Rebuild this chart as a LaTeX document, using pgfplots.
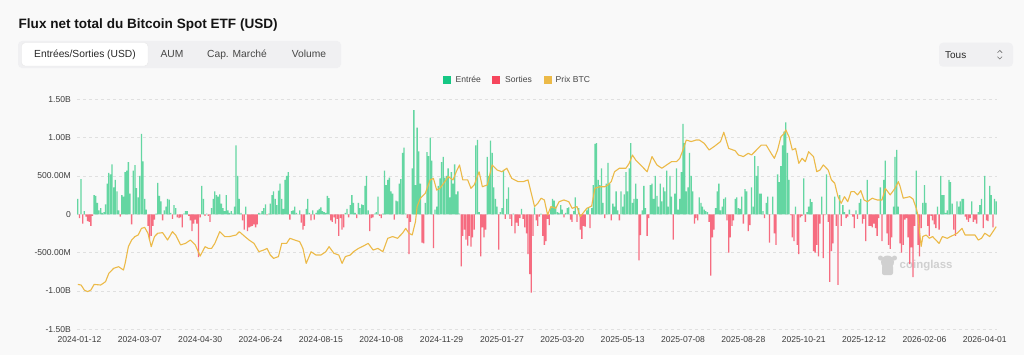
\documentclass[border=0pt]{standalone}
\usepackage{fontspec}
\setmainfont{Liberation Sans}
\usepackage{pgfplots}
\usepackage{pgfplotstable}
\pgfplotsset{compat=1.18}
\definecolor{bgc}{RGB}{249,249,249}
\definecolor{tabbg}{RGB}{240,240,242}
\definecolor{tabborder}{RGB}{232,232,232}
\definecolor{gridc}{RGB}{224,224,224}
\definecolor{tickc}{RGB}{60,60,60}
\definecolor{txtdark}{RGB}{40,40,40}
\definecolor{txtmid}{RGB}{70,70,70}
\definecolor{chev}{RGB}{110,110,110}
\definecolor{inc}{RGB}{22,199,132}
\definecolor{outc}{RGB}{246,70,93}
\definecolor{pricec}{RGB}{236,186,72}
\definecolor{inbar}{RGB}{100,214,162}
\definecolor{outbar}{RGB}{246,108,128}
\definecolor{wm}{RGB}{208,208,208}
\definecolor{titlec}{RGB}{20,20,20}

% daily net flows, billions USD
\pgfplotstableread[row sep=\\]{
v\\
0.20\\-0.05\\0.46\\-0.12\\0.04\\-0.03\\-0.09\\-0.10\\-0.15\\-0.02\\
0.25\\0.24\\0.15\\0.05\\0.08\\0.02\\0.03\\0.13\\0.40\\0.54\\
0.52\\0.65\\0.35\\0.45\\0.30\\0.05\\-0.03\\0.25\\0.23\\0.55\\
0.57\\0.68\\0.27\\-0.13\\0.57\\0.64\\0.34\\0.22\\0.50\\1.05\\
0.69\\0.20\\0.06\\-0.15\\-0.33\\-0.28\\-0.15\\-0.07\\0.01\\0.41\\
0.24\\0.17\\-0.08\\0.05\\0.10\\0.20\\0.19\\0.02\\-0.06\\0.12\\
0.08\\-0.04\\-0.05\\-0.04\\-0.17\\0.01\\0.04\\0.04\\-0.02\\-0.08\\
-0.22\\-0.12\\-0.07\\-0.12\\-0.56\\-0.04\\0.37\\0.20\\-0.02\\0.01\\
-0.02\\-0.10\\0.08\\0.20\\0.30\\0.25\\0.23\\0.26\\0.14\\0.08\\
0.04\\0.25\\0.05\\0.02\\0.04\\0.01\\0.10\\0.90\\0.50\\0.20\\
0.02\\-0.08\\-0.20\\0.10\\-0.22\\-0.17\\-0.16\\-0.15\\-0.13\\-0.17\\
-0.13\\0.02\\0.01\\0.04\\0.08\\0.13\\-0.01\\0.01\\0.14\\0.25\\
0.30\\0.20\\0.12\\0.31\\0.40\\0.20\\0.07\\0.45\\0.50\\0.55\\
-0.07\\0.04\\0.05\\0.10\\0.02\\0.00\\0.05\\-0.11\\-0.20\\-0.15\\
0.07\\0.20\\0.02\\-0.08\\0.05\\-0.07\\0.02\\0.05\\0.07\\0.09\\
0.04\\0.03\\0.02\\0.24\\0.21\\-0.08\\-0.10\\-0.04\\-0.12\\-0.06\\
-0.28\\-0.05\\
-0.20\\-0.17\\0.02\\0.07\\-0.04\\0.12\\0.25\\0.15\\0.02\\-0.05\\
0.15\\0.08\\0.13\\0.12\\0.37\\0.50\\0.05\\-0.22\\-0.05\\-0.04\\
0.01\\0.03\\0.23\\-0.02\\-0.05\\0.01\\0.57\\0.38\\0.45\\0.48\\
0.30\\0.27\\-0.07\\0.18\\0.17\\0.40\\0.46\\0.80\\0.87\\0.01\\
-0.05\\-0.52\\-0.10\\0.60\\1.36\\0.38\\1.13\\0.82\\0.40\\-0.37\\
-0.38\\0.15\\0.81\\0.76\\1.00\\0.70\\-0.44\\0.06\\0.10\\0.37\\
0.47\\0.68\\0.75\\0.48\\0.50\\0.60\\0.22\\0.55\\0.40\\0.65\\
0.26\\0.30\\0.01\\-0.68\\-0.28\\-0.20\\-0.33\\-0.41\\-0.28\\
-0.42\\-0.30\\-0.20\\0.90\\0.97\\0.03\\-0.55\\-0.17\\-0.30\\-0.20\\
0.75\\0.50\\0.96\\0.80\\0.35\\0.20\\0.10\\-0.46\\0.03\\0.08\\
0.58\\-0.06\\0.20\\0.35\\-0.06\\-0.15\\0.01\\-0.25\\-0.11\\-0.15\\
-0.05\\0.07\\-0.06\\-0.17\\-0.25\\-0.52\\-0.78\\-1.02\\-0.28\\0.09\\
-0.08\\-0.15\\-0.03\\0.01\\-0.28\\-0.40\\-0.35\\-0.06\\-0.14\\0.09\\
0.20\\0.18\\0.10\\0.03\\0.02\\0.12\\0.06\\-0.04\\0.02\\0.08\\
0.09\\-0.07\\-0.10\\0.04\\0.22\\-0.10\\0.08\\-0.20\\-0.32\\-0.15\\
-0.16\\0.05\\0.08\\-0.18\\0.08\\0.38\\0.92\\0.93\\0.45\\0.38\\
0.60\\0.15\\
-0.05\\0.40\\0.67\\0.40\\-0.08\\0.14\\0.10\\0.30\\0.05\\-0.08\\
0.30\\0.10\\0.26\\0.55\\0.30\\0.60\\0.93\\0.15\\0.20\\0.40\\
0.20\\-0.60\\-0.27\\0.05\\0.37\\0.08\\-0.28\\-0.05\\0.38\\0.40\\
0.20\\0.50\\0.24\\0.10\\0.40\\0.17\\0.35\\0.30\\0.57\\0.10\\
0.50\\0.23\\-0.33\\0.27\\0.60\\0.06\\0.20\\0.55\\1.18\\0.93\\
0.30\\0.35\\0.80\\0.50\\0.30\\-0.12\\-0.05\\-0.08\\0.22\\0.15\\
0.10\\0.06\\0.04\\0.03\\-0.10\\-0.80\\-0.30\\-0.20\\0.08\\0.30\\
0.40\\0.05\\0.10\\0.20\\0.22\\-0.08\\-0.50\\-0.30\\-0.15\\-0.08\\
0.20\\
0.22\\0.08\\0.07\\0.23\\-0.12\\0.33\\0.30\\-0.22\\-0.14\\0.35\\
0.10\\0.76\\0.50\\0.63\\0.27\\0.27\\0.04\\-0.05\\0.15\\0.23\\
-0.37\\0.00\\0.23\\-0.25\\-0.40\\0.52\\0.42\\0.63\\0.90\\1.08\\
1.20\\0.80\\0.45\\-0.01\\-0.30\\-0.35\\0.10\\-0.40\\-0.52\\-0.04\\
-0.02\\0.47\\-0.10\\0.03\\0.10\\0.20\\0.16\\-0.48\\-0.50\\-0.40\\
-0.55\\-0.12\\0.23\\-0.57\\-0.01\\0.52\\-0.10\\-0.88\\-0.48\\-0.38\\
0.23\\-0.15\\-0.92\\0.25\\-0.15\\0.12\\0.03\\-0.05\\-0.03\\0.06\\
0.00\\-0.03\\-0.18\\0.05\\-0.06\\0.15\\0.20\\-0.12\\-0.06\\-0.35\\
0.45\\
-0.15\\-0.15\\-0.17\\-0.12\\-0.18\\-0.28\\-0.05\\0.35\\-0.35\\0.45\\
0.70\\-0.25\\-0.40\\-0.45\\-0.30\\0.10\\0.75\\0.84\\0.10\\-0.38\\
-0.50\\-0.40\\-0.07\\-0.05\\-0.30\\-0.65\\-0.43\\-0.82\\-0.15\\0.57\\
-0.40\\-0.55\\-0.18\\0.15\\0.38\\0.15\\-0.15\\-0.28\\-0.02\\-0.08\\
-0.13\\-0.18\\0.10\\-0.20\\0.50\\0.25\\0.25\\0.02\\0.05\\0.45\\
0.42\\0.14\\-0.20\\-0.28\\0.17\\0.10\\0.17\\0.20\\0.20\\-0.03\\
-0.07\\-0.10\\-0.05\\0.17\\-0.10\\-0.07\\-0.12\\0.03\\0.12\\0.20\\
-0.18\\0.50\\-0.08\\-0.09\\0.37\\0.25\\-0.17\\0.20\\0.17\\
}\flows

% BTC price, thousands USD, at trading-day index
\pgfplotstableread[row sep=\\]{
i p\\
0 46.3\\2 46.0\\4 43.4\\6 42.6\\8 43.4\\10 46.3\\14 46.0\\17 47.7\\19 52.0\\22 54.6\\
25 55.4\\28 53.7\\29 57.1\\31 65.7\\33 69.1\\35 70.9\\37 71.7\\39 75.1\\41 75.6\\43 72.6\\
45 65.7\\47 70.9\\49 72.6\\52 72.9\\55 69.1\\58 73.4\\60 71.7\\63 66.6\\66 67.4\\69 69.1\\
72 66.6\\75 60.9\\78 65.7\\80 64.8\\82 64.8\\84 67.4\\87 73.4\\90 70.9\\93 70.9\\97 71.7\\
99 73.4\\102 71.2\\105 69.1\\108 67.4\\111 63.1\\114 64.0\\116 64.8\\118 61.4\\120 59.7\\123 60.6\\
125 67.4\\128 67.4\\130 70.0\\133 69.1\\136 68.3\\138 64.8\\140 57.1\\143 63.1\\146 61.4\\149 61.4\\
152 63.1\\154 65.7\\157 62.3\\160 61.4\\162 57.1\\164 60.6\\167 61.4\\169 63.1\\172 64.8\\175 66.0\\
178 67.4\\181 64.0\\184 64.8\\187 63.1\\190 70.0\\193 70.9\\196 70.0\\199 72.6\\201 75.1\\203 72.6\\
205 71.7\\207 78.6\\208 86.3\\210 90.6\\213 93.1\\216 100.0\\218 100.8\\220 94.8\\222 95.7\\225 99.1\\
227 101.7\\230 100.0\\232 104.2\\234 107.7\\236 100.0\\239 100.0\\241 95.7\\243 97.4\\246 104.2\\248 96.5\\
251 97.4\\254 107.7\\257 105.1\\260 104.2\\263 106.0\\266 100.8\\270 99.1\\273 99.1\\276 100.0\\278 93.1\\
280 86.3\\282 88.0\\284 90.6\\286 89.7\\288 82.0\\290 86.3\\293 85.4\\295 88.8\\298 89.7\\301 88.8\\
303 85.4\\306 86.3\\308 81.1\\312 85.4\\315 86.6\\317 95.7\\320 96.5\\323 96.5\\325 97.4\\327 99.1\\
329 104.2\\332 106.0\\336 106.0\\338 108.5\\340 112.8\\342 110.2\\345 107.7\\349 104.2\\352 112.0\\355 107.7\\
358 106.0\\361 107.7\\364 109.4\\367 109.4\\369 111.1\\371 115.4\\373 120.5\\376 119.7\\379 120.5\\381 120.5\\
384 118.8\\387 115.4\\390 117.1\\394 119.7\\396 124.5\\399 116.2\\403 115.0\\405 112.8\\408 112.0\\411 113.7\\
413 112.8\\415 114.5\\419 117.9\\422 117.9\\425 113.7\\427 111.1\\429 115.4\\431 122.2\\433 123.9\\434 125.7\\
436 122.2\\438 115.4\\440 116.2\\442 108.5\\444 111.1\\446 109.4\\448 114.5\\451 112.0\\453 104.2\\455 105.1\\
457 107.7\\460 105.1\\462 100.0\\464 98.3\\466 91.4\\468 88.0\\470 91.4\\472 88.8\\474 94.0\\476 94.0\\
478 92.3\\480 94.5\\482 89.7\\484 88.8\\487 90.6\\490 89.7\\493 89.7\\495 95.7\\498 92.3\\501 95.7\\
503 99.1\\504 96.9\\506 90.6\\510 91.4\\512 90.2\\514 85.4\\515 82.0\\516 73.4\\517 65.8\\518 70.9\\
520 71.7\\522 70.0\\524 70.9\\526 69.1\\528 67.4\\530 70.9\\533 70.0\\535 70.9\\537 71.7\\539 72.6\\
542 75.1\\544 71.7\\547 71.7\\550 71.7\\552 69.1\\554 70.0\\556 72.6\\559 70.9\\561 73.4\\563 76.0\\
}\price

\begin{document}
\begin{tikzpicture}[x=1bp,y=1bp]
\fill[bgc] (0,0) rectangle (1024,355);
% title
\node[anchor=base west, inner sep=0, font=\bfseries\fontsize{13.6}{16}\selectfont, text=titlec] at (18.5,327) {Flux net total du Bitcoin Spot ETF (USD)};
% tabs
\fill[tabbg, rounded corners=4bp] (18,287) rectangle (341,314);
\filldraw[fill=white, draw=tabborder, line width=0.4bp, rounded corners=3.5bp] (21.5,289) rectangle (148,312.3);
\node[inner sep=0, font=\fontsize{10.3}{12}\selectfont, text=txtdark] at (85,300.7) {Entrées/Sorties (USD)};
\node[inner sep=0, font=\fontsize{10.3}{12}\selectfont, text=txtmid] at (172,300.7) {AUM};
\node[inner sep=0, font=\fontsize{10.3}{12}\selectfont, text=txtmid] at (237,300.7) {Cap. Marché};
\node[inner sep=0, font=\fontsize{10.3}{12}\selectfont, text=txtmid] at (309,300.7) {Volume};
% Tous dropdown
\fill[tabbg, rounded corners=4bp] (939,288.3) rectangle (1013,312.3);
\node[anchor=west, inner sep=0, font=\fontsize{10}{12}\selectfont, text=txtdark] at (945,300.3) {Tous};
\draw[chev, line width=0.6bp] (997.5,302.3)--(999.8,304.6)--(1002.1,302.3);
\draw[chev, line width=0.6bp] (997.5,298.3)--(999.8,296)--(1002.1,298.3);
% legend
\fill[inc] (443,271.5) rectangle (451,279.5);
\node[anchor=west, inner sep=0, font=\fontsize{8.6}{10}\selectfont, text=txtmid] at (455.5,275.5) {Entrée};
\fill[outc] (492,271.5) rectangle (500,279.5);
\node[anchor=west, inner sep=0, font=\fontsize{8.6}{10}\selectfont, text=txtmid] at (505,275.5) {Sorties};
\fill[pricec] (544,271.5) rectangle (552,279.5);
\node[anchor=west, inner sep=0, font=\fontsize{8.6}{10}\selectfont, text=txtmid] at (555.5,275.5) {Prix BTC};
% watermark
\fill[wm] (887.5,93) circle (6.5);
\fill[wm] (880.5,97) circle (2.5);
\fill[wm] (894.5,97) circle (2.5);
\fill[wm, rounded corners=2bp] (882,80) rectangle (893,90);
\node[anchor=west, inner sep=0, font=\bfseries\fontsize{11.5}{13}\selectfont, text=wm] at (899.5,89) {coinglass};

\begin{axis}[at={(77bp,25.7bp)}, anchor=south west, width=920bp, height=230bp, scale only axis,
  xmin=-0.5, xmax=563.5, ymin=-1.5, ymax=1.5,
  axis line style={draw=none}, major tick length=0pt,
  ytick={-1.5,-1,-0.5,0,0.5,1,1.5},
  yticklabels={-1.50B,-1.00B,-500.00M,0,500.00M,1.00B,1.50B},
  xtick={1,38,...,556},
  xticklabels={2024-01-12,2024-03-07,2024-04-30,2024-06-24,2024-08-15,2024-10-08,2024-11-29,2025-01-27,2025-03-20,2025-05-13,2025-07-08,2025-08-28,2025-10-21,2025-12-12,2026-02-06,2026-04-01},
  ymajorgrids, grid style={gridc, dash pattern=on 3bp off 3bp, line width=0.6bp},
  yticklabel style={font=\fontsize{8.6}{10}\selectfont, text=tickc, inner sep=0pt, xshift=-6bp},
  xticklabel style={font=\fontsize{8.6}{10}\selectfont, text=tickc, inner sep=0pt, yshift=-6.7bp},
  clip=false]
\addplot[ybar, bar width=0.8, bar shift=0pt, fill=inbar, draw=none] table[x expr=\coordindex, y=v, restrict y to domain=0:2] {\flows};
\addplot[ybar, bar width=0.8, bar shift=0pt, fill=outbar, draw=none] table[x expr=\coordindex, y=v, restrict y to domain=-2:0] {\flows};
\end{axis}
\begin{axis}[at={(77bp,25.7bp)}, anchor=south west, width=920bp, height=230bp, scale only axis,
  hide axis, xmin=-0.5, xmax=563.5, ymin=23.24, ymax=141.43]
\addplot[pricec, line width=1.1bp, line join=round] table[x=i, y=p] {\price};
\end{axis}
\pgfresetboundingbox
\path[use as bounding box] (0,0) rectangle (1024,355);
\end{tikzpicture}
\end{document}
